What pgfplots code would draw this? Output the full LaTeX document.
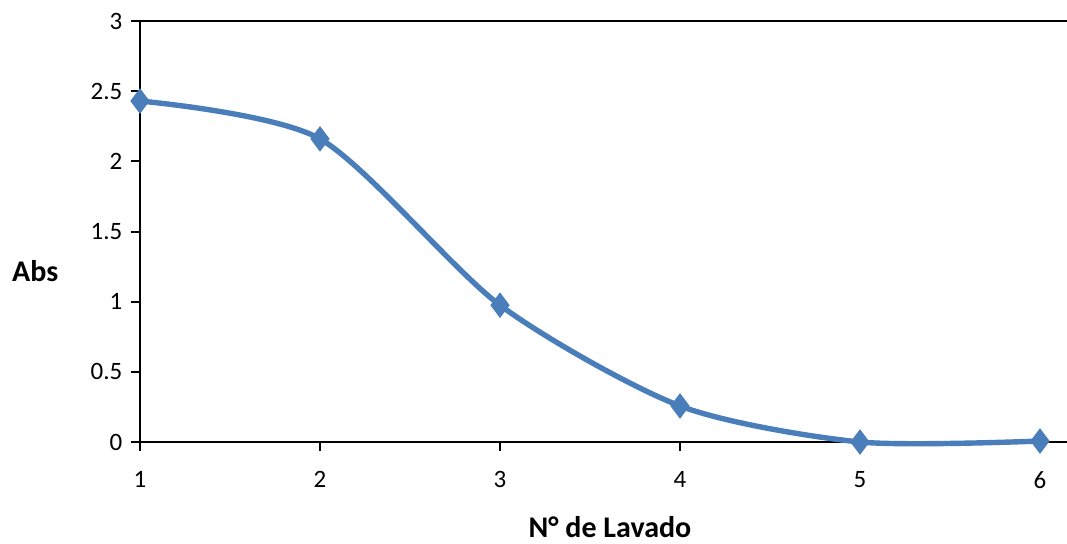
\documentclass[border=0pt]{standalone}
\usepackage{pgfplots}
\pgfplotsset{compat=1.18}
\usepackage{fontspec}
\setmainfont{Carlito}
\definecolor{serie}{HTML}{4A7EBB}
\begin{document}
\fontsize{12.5}{15}\selectfont
\begin{tikzpicture}
\path[use as bounding box] (-70pt,-50.5pt) rectangle (463.5pt,221pt);
\begin{axis}[
  at={(0,0)}, anchor=origin,
  scale only axis, width=463.5pt, height=210.5pt,
  xmin=1, xmax=6.15, ymin=0, ymax=3,
  axis x line*=bottom, axis y line*=left,
  axis line style={line width=1pt, black},
  xtick={1,2,3,4,5,6},
  ytick={0,0.5,1,1.5,2,2.5},
  extra y ticks={3},
  extra y tick style={grid=major, major grid style={black, line width=1pt}},
  tick align=outside, major tick length=4.5pt,
  tick style={black, line width=1pt},
  /pgf/number format/assume math mode=true,
  tick label style={font=\fontsize{12.5}{15}\selectfont},
  xticklabel style={yshift=-6pt},
  xlabel={\textbf{N° de Lavado}},
  ylabel={\textbf{Abs}},
  label style={font=\fontsize{15}{18}\selectfont},
  xlabel style={at={(axis description cs:0.507,-0.203)}, anchor=center},
  ylabel style={rotate=-90, at={(axis description cs:-0.113,0.406)}, anchor=center},
  clip=false,
]
\addplot[serie, line width=2.7pt, smooth, tension=0.45, mark=diamond*, mark size=6pt, mark options={solid, fill=serie, line width=0.5pt}]
coordinates {(1,2.43) (2,2.16) (3,0.975) (4,0.257) (5,0.0) (6,0.007)};
\end{axis}
\end{tikzpicture}
\end{document}
